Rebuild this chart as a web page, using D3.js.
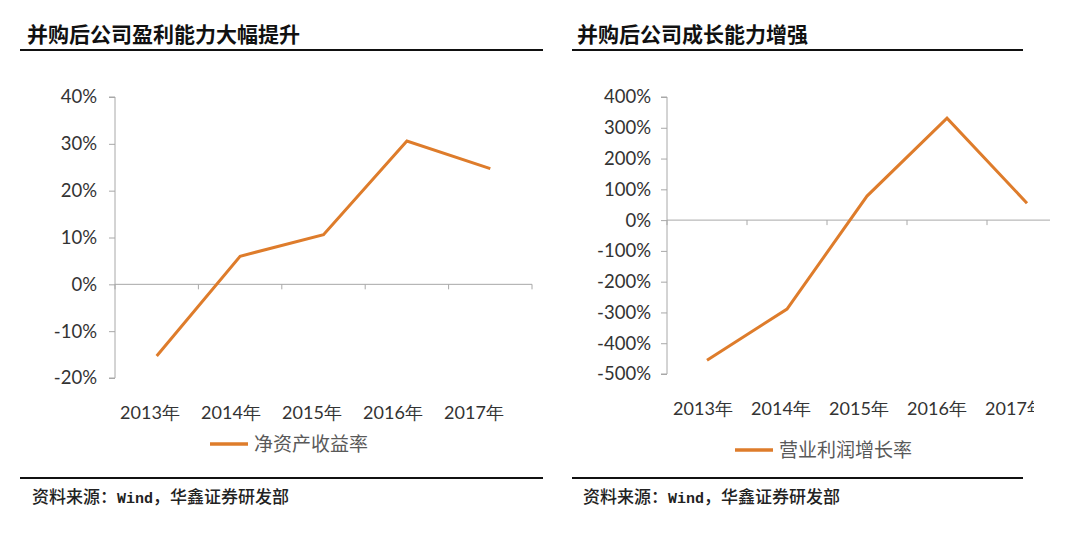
<!DOCTYPE html>
<html><head><meta charset="utf-8">
<script src="https://cdn.jsdelivr.net/npm/d3@7"></script>
<style>
html,body{margin:0;padding:0;background:#fff;}
svg{display:block;}
</style></head>
<body>
<svg id="c" width="1080" height="534"></svg>
<script>
const years = ["2013年","2014年","2015年","2016年","2017年"];
const roe = [-0.153, 0.06, 0.106, 0.306, 0.247];
const opGrowth = [-4.55, -2.89, 0.78, 3.31, 0.55];
const roeTicks = [-0.2,-0.1,0,0.1,0.2,0.3,0.4];
const opTicks = [-5,-4,-3,-2,-1,0,1,2,3,4];
const titles = ["并购后公司盈利能力大幅提升","并购后公司成长能力增强"];
const legends = ["净资产收益率","营业利润增长率"];
const sourceParts = ["资料来源：","Wind","，华鑫证券研发部"];

const svg = d3.select("#c");
const LINE = "#DE7C2B", AX = "#a8a8a8", TXT = "#333";
const numFont = "Lato, 'Noto Sans', sans-serif";
const cjk = "'Noto Sans CJK SC', sans-serif";
const pct = v => d3.format(".0%")(v).replace("\u2212","-");

const defs = svg.append("defs");
defs.append("clipPath").attr("id","clipR")
  .append("rect").attr("x",540).attr("y",0).attr("width",510).attr("height",534);
defs.append("clipPath").attr("id","clipRL")
  .append("rect").attr("x",540).attr("y",0).attr("width",494).attr("height",534);

function panel(cfg){
  const g = svg.append("g");
  if (cfg.clip) g.attr("clip-path","url(#clipR)");
  g.append("text").attr("x",cfg.titleX).attr("y",42).text(cfg.title)
    .attr("font-family",cjk).attr("font-weight","bold").attr("font-size",21).attr("fill","#111");
  g.append("line").attr("x1",cfg.ruleX1).attr("x2",cfg.ruleX2).attr("y1",50).attr("y2",50)
    .attr("stroke","#111").attr("stroke-width",2.2);
  g.append("line").attr("x1",cfg.ruleX1).attr("x2",cfg.ruleX2).attr("y1",478).attr("y2",478)
    .attr("stroke","#111").attr("stroke-width",2.2);
  const st = g.append("text").attr("x",cfg.srcX).attr("y",503)
    .attr("font-family",cjk).attr("font-weight",500).attr("font-size",17).attr("fill","#222");
  st.append("tspan").text(sourceParts[0]);
  st.append("tspan").text(sourceParts[1]).attr("font-family","'Liberation Mono', monospace").attr("font-size",15).attr("font-weight","bold");
  st.append("tspan").text(sourceParts[2]);

  const x = d3.scaleBand().domain(years).range(cfg.xr);
  const xl = d3.scalePoint().domain(years).range(cfg.labR);
  const y = d3.scaleLinear().domain(cfg.yd).range(cfg.yr);

  const ya = g.append("g").attr("transform",`translate(${cfg.xr[0]},0)`)
    .call(d3.axisLeft(y).tickValues(cfg.ticks).tickSize(6).tickPadding(cfg.pad).tickFormat(pct));
  ya.selectAll("path,line").attr("stroke",AX);
  ya.select(".domain").attr("d",`M-6,${cfg.yr[1]}H0V${cfg.yr[0]}H-6`);
  ya.selectAll("text").attr("font-family",numFont).attr("font-size",18.5).attr("fill",TXT);

  const y0 = y(0);
  g.append("line").attr("x1",cfg.xr[0]).attr("x2",cfg.xr[1]).attr("y1",y0).attr("y2",y0).attr("stroke",AX);
  const bounds = years.map(d=>x(d)).concat([x(years[years.length-1])+x.bandwidth()]);
  g.selectAll(".xt").data(bounds).enter().append("line")
    .attr("x1",d=>d).attr("x2",d=>d).attr("y1",y0).attr("y2",y0+5).attr("stroke",AX);
  const lg = g.append("g");
  if (cfg.clip) lg.attr("clip-path","url(#clipRL)");
  lg.selectAll(".xl").data(years).enter().append("text")
    .attr("x",d=>xl(d)).attr("y",cfg.xlabY).attr("text-anchor","middle")
    .text(d=>d).attr("font-family",numFont).attr("font-size",18).attr("fill",TXT);

  const line = d3.line().x((d,i)=>x(years[i])+x.bandwidth()/2).y(d=>y(d));
  g.append("path").datum(cfg.vals).attr("d",line).attr("fill","none")
    .attr("stroke",LINE).attr("stroke-width",3).attr("stroke-linejoin","miter");

  g.append("line").attr("x1",cfg.legX).attr("x2",cfg.legX+38).attr("y1",cfg.legY).attr("y2",cfg.legY)
    .attr("stroke",LINE).attr("stroke-width",3.5);
  g.append("text").attr("x",cfg.legX+44).attr("y",cfg.legY+7).text(cfg.legend)
    .attr("font-family",cjk).attr("font-size",19).attr("fill","#595959");
}

panel({title:titles[0], titleX:27, ruleX1:20, ruleX2:543, srcX:32,
  xr:[115,532], labR:[150,474], yd:[-0.2,0.4], yr:[378,97], ticks:roeTicks, pad:12, vals:roe, xlabY:419,
  legX:210, legY:444, legend:legends[0]});
panel({title:titles[1], titleX:577, ruleX1:572, ruleX2:1023, srcX:583, clip:true,
  xr:[667,1067], labR:[703,1015], yd:[-5,4], yr:[374,97], ticks:opTicks, pad:10, vals:opGrowth, xlabY:415,
  legX:735, legY:450, legend:legends[1]});
</script>
</body></html>
